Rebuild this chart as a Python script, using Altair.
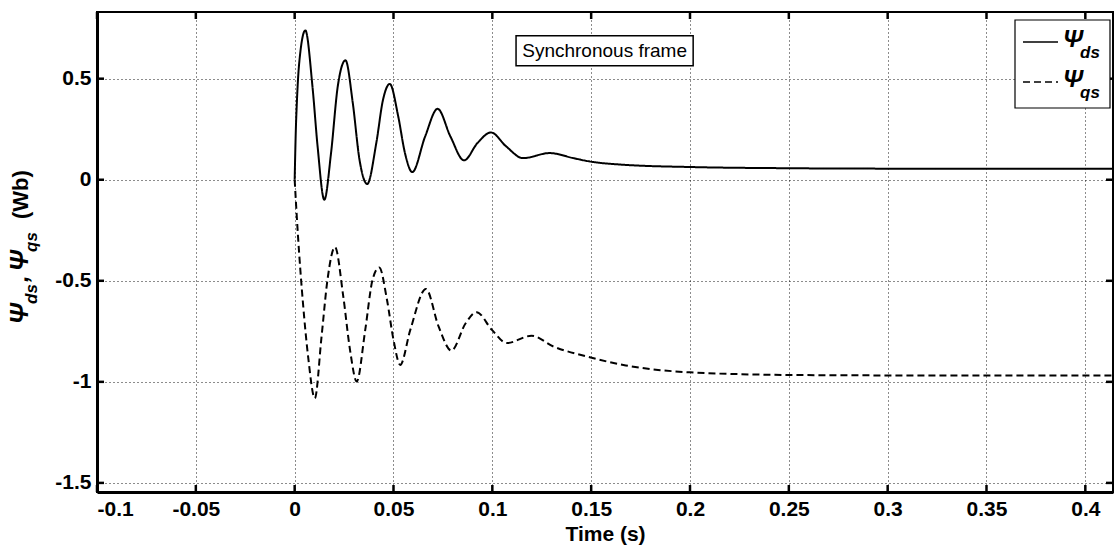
import altair as alt
import pandas as pd

# Psi_ds (solid)
t_ds = [0.0, 0.0006, 0.0011, 0.0023, 0.0054, 0.009, 0.0116, 0.015, 0.0184, 0.0218, 0.0257,
        0.0294, 0.0328, 0.0367, 0.0413, 0.0447, 0.0481, 0.0524, 0.0558, 0.0595, 0.066,
        0.0723, 0.0788, 0.0857, 0.0925, 0.0993, 0.107, 0.1155, 0.129, 0.141, 0.149,
        0.1666, 0.2, 0.25, 0.3, 0.35, 0.414]
v_ds = [0.0, 0.25, 0.38, 0.578, 0.739, 0.462, 0.165, -0.099, 0.132, 0.462, 0.591,
        0.38, 0.099, -0.021, 0.182, 0.396, 0.474, 0.313, 0.132, 0.038, 0.214,
        0.351, 0.214, 0.096, 0.182, 0.234, 0.165, 0.107, 0.132, 0.107, 0.091,
        0.074, 0.063, 0.057, 0.055, 0.055, 0.055]

# Psi_qs (dashed)
t_qs = [0.0, 0.0017, 0.0042, 0.0068, 0.0102, 0.0136, 0.0166, 0.0204, 0.0246, 0.028, 0.0314,
        0.0357, 0.0394, 0.0428, 0.0467, 0.05, 0.0534, 0.0585, 0.0664, 0.0728, 0.0793,
        0.0865, 0.092, 0.0998, 0.1073, 0.1198, 0.1309, 0.1493, 0.1675, 0.185, 0.2,
        0.225, 0.25, 0.3, 0.35, 0.414]
v_qs = [0.0, -0.281, -0.61, -0.875, -1.081, -0.776, -0.495, -0.333, -0.578, -0.842, -0.998,
        -0.743, -0.495, -0.434, -0.594, -0.792, -0.916, -0.743, -0.54, -0.726, -0.845,
        -0.71, -0.655, -0.743, -0.808, -0.772, -0.825, -0.878, -0.919, -0.942, -0.953,
        -0.962, -0.966, -0.968, -0.968, -0.968]

series_names = ["Ψds", "Ψqs"]
series_sym = ["Ψ", "Ψ"]
series_sub = ["ds", "qs"]
x_ticks = [-0.1, -0.05, 0, 0.05, 0.1, 0.15, 0.2, 0.25, 0.3, 0.35, 0.4]
y_ticks = [-1.5, -1, -0.5, 0, 0.5]
x_domain = [-0.1, 0.414]
y_domain = [-1.545, 0.83]

note_text = ["Synchronous frame"]
note_box = {"t": [0.112], "t2": [0.2016], "v": [0.564], "v2": [0.713]}

W, H = 1016, 480
FONT = "Liberation Sans"

df = pd.concat([
    pd.DataFrame({"t": t_ds, "v": v_ds, "s": series_names[0]}),
    pd.DataFrame({"t": t_qs, "v": v_qs, "s": series_names[1]}),
])

xs = alt.Scale(domain=x_domain, nice=False, zero=False)
ys = alt.Scale(domain=y_domain, nice=False, zero=False)
X_TITLE = "Time (s)"
x_axis = alt.Axis(values=x_ticks, labelExpr="'' + datum.value", grid=True)
y_axis = alt.Axis(values=y_ticks, labelExpr="'' + datum.value", grid=True)


def X(field="t"):
    return alt.X(f"{field}:Q", scale=xs, title=X_TITLE, axis=x_axis)


def Y(field="v"):
    return alt.Y(f"{field}:Q", scale=ys, title=None, axis=y_axis)


DASHES = [[1, 0], [7, 4]]

lines = alt.Chart(df).mark_line(color="black", strokeWidth=2, interpolate="monotone").encode(
    x=X(), y=Y(),
    strokeDash=alt.StrokeDash("s:N", scale=alt.Scale(domain=series_names, range=DASHES), legend=None),
    detail="s:N",
)

box = alt.Chart(pd.DataFrame(note_box)).mark_rect(fill="white", stroke="black", strokeWidth=1.5).encode(
    x=X(), x2="t2:Q", y=Y(), y2="v2:Q",
)
note = alt.Chart(pd.DataFrame({
    "t": [(note_box["t"][0] + note_box["t2"][0]) / 2],
    "v": [(note_box["v"][0] + note_box["v2"][0]) / 2],
    "label": note_text,
})).mark_text(font=FONT, fontSize=19, color="black", baseline="middle", align="center").encode(
    x=X(), y=Y(), text="label:N",
)

xt = pd.DataFrame({"t": x_ticks})
yt = pd.DataFrame({"v": y_ticks})
tick_top = alt.Chart(xt).mark_rule(color="black", strokeWidth=2.5).encode(
    x=X(), y=alt.value(0), y2=alt.value(7))
tick_bot = alt.Chart(xt).mark_rule(color="black", strokeWidth=2.5).encode(
    x=X(), y=alt.value(H), y2=alt.value(H - 7))
tick_left = alt.Chart(yt).mark_rule(color="black", strokeWidth=2.5).encode(
    y=Y(), x=alt.value(0), x2=alt.value(7))
tick_right = alt.Chart(yt).mark_rule(color="black", strokeWidth=2.5).encode(
    y=Y(), x=alt.value(W), x2=alt.value(W - 7))


def label(text, x, y, size, angle=0, italic=True, bold=True, align="left", baseline="alphabetic"):
    kw = dict(font=FONT, fontSize=size, color="black", align=align, baseline=baseline,
              fontWeight="bold" if bold else "normal")
    if italic:
        kw["fontStyle"] = "italic"
    if angle:
        kw["angle"] = angle
    return alt.Chart(pd.DataFrame({"label": [text]})).mark_text(**kw).encode(
        x=alt.value(x), y=alt.value(y), text="label:N")


# custom legend (box, line samples, symbol with subscript)
leg_box = alt.Chart(pd.DataFrame({"k": [0]})).mark_rect(fill="white", stroke="black", strokeWidth=1.2).encode(
    x=alt.value(918), x2=alt.value(1013), y=alt.value(8), y2=alt.value(96))
leg_solid = alt.Chart(pd.DataFrame({"k": [0]})).mark_rule(color="black", strokeWidth=1.5).encode(
    x=alt.value(926), x2=alt.value(961), y=alt.value(30))
leg_dash = alt.Chart(pd.DataFrame({"k": [0]})).mark_rule(color="black", strokeWidth=1.5,
                                                         strokeDash=DASHES[1]).encode(
    x=alt.value(926), x2=alt.value(961), y=alt.value(70))
leg_texts = [
    label(series_sym[0], 966, 35, 24),
    label(series_sub[0], 983, 46, 17),
    label(series_sym[1], 966, 75, 24),
    label(series_sub[1], 983, 86, 17),
]

# y-axis title with subscripts, rotated
ytitle = [
    label("Ψ", -69, 312, 25, angle=270),
    label("ds", -60, 292, 17, angle=270),
    label(",", -69, 270, 23, angle=270),
    label("Ψ", -69, 259, 25, angle=270),
    label("qs", -60, 240, 17, angle=270),
    label("(Wb)", -69, 207, 22, angle=270, italic=False),
]

chart = alt.layer(lines, box, note, tick_top, tick_bot, tick_left, tick_right,
                  leg_box, leg_solid, leg_dash, *leg_texts, *ytitle).properties(
    width=W, height=H,
    autosize=alt.AutoSizeParams(type="none"),
    padding={"left": 97, "top": 12, "right": 2, "bottom": 61},
    background="white",
).configure_view(
    stroke="black", strokeWidth=2,
).configure_axis(
    domainColor="black", domainWidth=3, tickSize=0,
    gridColor="black", gridDash=[1, 3], gridWidth=1, gridOpacity=0.9,
    labelFont=FONT, labelFontSize=21, labelFontWeight="bold", labelColor="black",
    titleFont=FONT, titleFontSize=21, titleFontWeight="bold", titleColor="black",
).configure_axisX(
    labelPadding=6, titlePadding=4,
).configure_axisY(
    labelPadding=6,
)

chart.save("out.html", embed_options={"renderer": "svg", "actions": False})
